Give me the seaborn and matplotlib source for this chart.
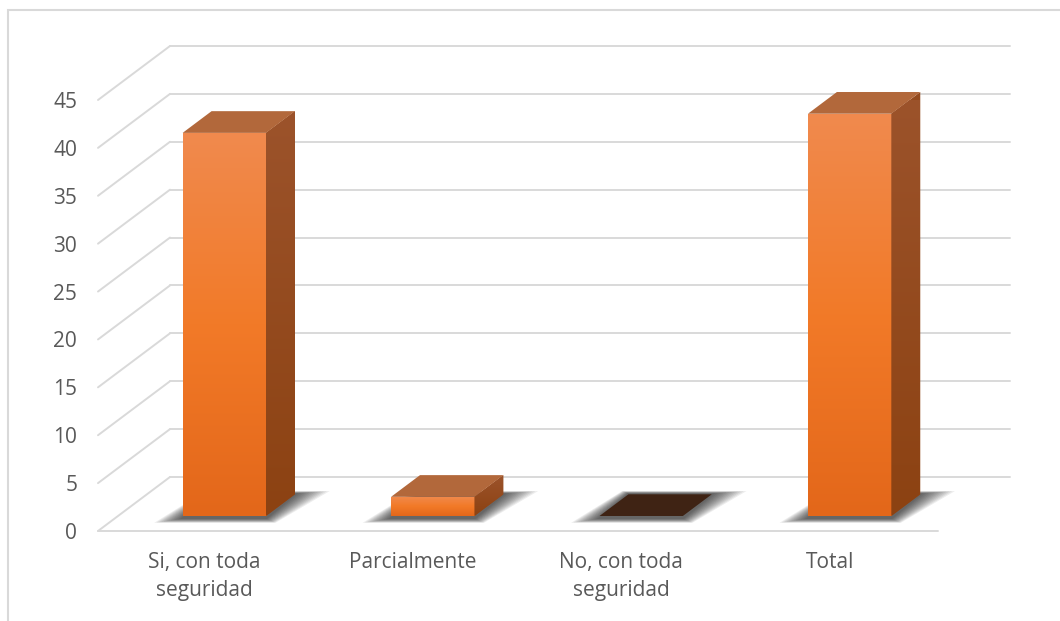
import numpy as np
import pandas as pd
import matplotlib
matplotlib.use("Agg")
import matplotlib.pyplot as plt
import seaborn as sns
from matplotlib.transforms import ScaledTranslation, IdentityTransform
from matplotlib.patches import Polygon, Rectangle
from matplotlib.lines import Line2D
from matplotlib.colors import LinearSegmentedColormap

# ---- data ----
categories = ["Si, con toda\nseguridad", "Parcialmente", "No, con toda\nseguridad", "Total"]
values = [40, 2, 0, 42]
y_ticks = [0, 5, 10, 15, 20, 25, 30, 35, 40, 45]

sns.set_theme(style="white")
plt.rcParams["font.family"] = ["Open Sans", "DejaVu Sans"]

W, H, DPI = 1060, 621, 100
fig = plt.figure(figsize=(W / DPI, H / DPI), dpi=DPI)

# front plane of the 3-D box
ax_left, ax_right, ax_top, ax_bot = 98, 938, 100, 531
ax = fig.add_axes([ax_left / W, 1 - ax_bot / H, (ax_right - ax_left) / W, (ax_bot - ax_top) / H])

df = pd.DataFrame({"categoria": categories, "valor": values})
sns.barplot(data=df, x="categoria", y="valor", width=0.4, color="#F07D2C",
            saturation=1, linewidth=0, ax=ax)

XLIM = (-0.51, 3.52)
ax.set_xlim(*XLIM)
ax.set_ylim(0, 45)
for s in ax.spines.values():
    s.set_visible(False)
ax.set_xlabel("")
ax.set_ylabel("")
ax.set_yticks(y_ticks)
ax.set_yticklabels([str(v) for v in y_ticks])
ax.tick_params(axis="y", length=0, pad=15, labelsize=15, labelcolor="#595959")
ax.tick_params(axis="x", length=0, pad=15, labelsize=15, labelcolor="#595959")
for lbl in ax.get_xticklabels():
    lbl.set_linespacing(1.45)
    lbl.set_verticalalignment("top")
ax.patch.set_alpha(0)

# depth direction of the box (pixels, display y up)
DEPTH = np.array([72.0, 54.0])
D_FRONT, D_BACK = 0.278, 0.68
ident = IdentityTransform()


def proj(x, y, d):
    p = ax.transData.transform((x, y))
    return p + d * DEPTH


def add_line(p, q, **kw):
    ln = Line2D([p[0], q[0]], [p[1], q[1]], transform=ident, clip_on=False, **kw)
    ax.add_artist(ln)


def add_poly(pts, **kw):
    pg = Polygon(pts, closed=True, transform=ident, clip_on=False, **kw)
    ax.add_artist(pg)
    return pg


grid_c = "#D9D9D9"
# back wall gridlines and side-wall diagonals
for v in y_ticks:
    a = proj(XLIM[0], v, 1.0)
    b = proj(XLIM[1], v, 1.0)
    add_line(a, b, color=grid_c, lw=1.4, zorder=0.5)
    add_line(proj(XLIM[0], v, 0.0), a, color=grid_c, lw=1.4, zorder=0.5)
# front floor edge
add_line(proj(XLIM[0], 0, 0.0), proj(XLIM[1], 0, 0.0), color=grid_c, lw=1.4, zorder=0.5)

front_off = ScaledTranslation(D_FRONT * DEPTH[0] / DPI, D_FRONT * DEPTH[1] / DPI, fig.dpi_scale_trans)
front_cmap = LinearSegmentedColormap.from_list("front", ["#E3671A", "#F27A28", "#F08A4E"])
side_cmap = LinearSegmentedColormap.from_list("side", ["#8C4212", "#9C532B"])
grad = np.linspace(0, 1, 256).reshape(-1, 1)

for patch in list(ax.patches):
    x0 = patch.get_x()
    x1 = x0 + patch.get_width()
    h = patch.get_height()

    # soft floor shadow around the footprint
    for i in range(12):
        e = 3 + i * 2.6
        pts = [proj(x0, 0, D_FRONT) + [-e * 0.9, -3 - i * 0.35],
               proj(x1, 0, D_FRONT) + [e * 0.3, -3 - i * 0.35],
               proj(x1, 0, D_BACK) + [e * 1.1, 1 + i * 0.2],
               proj(x0, 0, D_BACK) + [-e * 0.2, 1 + i * 0.2]]
        add_poly(pts, facecolor="black", edgecolor="none", alpha=0.07, zorder=1)

    if h <= 0:
        pts = [proj(x0, 0, D_FRONT), proj(x1, 0, D_FRONT), proj(x1, 0, D_BACK), proj(x0, 0, D_BACK)]
        add_poly(pts, facecolor="#3F2314", edgecolor="none", zorder=3)
        patch.set_visible(False)
        continue

    # front face: the seaborn bar moved onto its depth, with a vertical gradient
    patch.set_transform(ax.transData + front_off)
    patch.set_clip_on(False)
    patch.set_zorder(3)
    im = ax.imshow(grad, extent=[x0, x1, 0, h], origin="lower", aspect="auto",
                   cmap=front_cmap, transform=ax.transData + front_off, zorder=3.5)
    im.set_clip_path(patch)

    # side face, shaded top to bottom
    side = [proj(x1, 0, D_FRONT), proj(x1, 0, D_BACK), proj(x1, h, D_BACK), proj(x1, h, D_FRONT)]
    side_pg = add_poly(side, facecolor="#944A1E", edgecolor="none", zorder=3)
    xs = [p[0] for p in side]
    ys = [p[1] for p in side]
    im2 = ax.imshow(grad, extent=[min(xs), max(xs), min(ys), max(ys)], origin="lower",
                    aspect="auto", cmap=side_cmap, transform=ident, zorder=3.5)
    im2.set_clip_path(side_pg)

    # top face
    top = [proj(x0, h, D_FRONT), proj(x1, h, D_FRONT), proj(x1, h, D_BACK), proj(x0, h, D_BACK)]
    add_poly(top, facecolor="#B2683B", edgecolor="none", zorder=3.6)

ax.set_xlim(*XLIM)
ax.set_ylim(0, 45)

# chart area frame
fig.add_artist(Rectangle((8 / W, -0.2), 1.2, 1.2 - 9.5 / H, transform=fig.transFigure,
                         facecolor="none", edgecolor="#D9D9D9", lw=1.5, zorder=0))

fig.savefig("out.png", dpi=DPI)
